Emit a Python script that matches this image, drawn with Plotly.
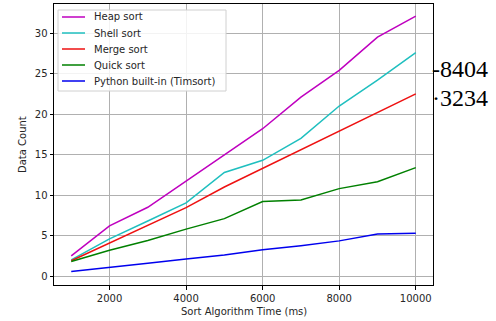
import plotly.graph_objects as go

sizes = [1000, 2000, 3000, 4000, 5000, 6000, 7000, 8000, 9000, 10000]
heap_sort = [2.5, 6.2, 8.5, 11.7, 14.9, 18.2, 22.1, 25.4, 29.5, 32.1]
shell_sort = [2.0, 4.6, 6.8, 9.05, 12.8, 14.3, 17.0, 21.0, 24.2, 27.6]
merge_sort = [1.9, 4.05, 6.2, 8.45, 11.0, 13.3, 15.6, 17.9, 20.3, 22.5]
quick_sort = [1.8, 3.2, 4.4, 5.8, 7.1, 9.2, 9.4, 10.8, 11.65, 13.4]
timsort = [0.58, 1.12, 1.6, 2.1, 2.6, 3.25, 3.75, 4.35, 5.2, 5.3]

series_names = ["Heap sort", "Shell sort", "Merge sort", "Quick sort", "Python built-in (Timsort)"]
series_values = [heap_sort, shell_sort, merge_sort, quick_sort, timsort]
series_colors = ["#bf00bf", "#1fbfbf", "#ee1111", "#008000", "#0000ee"]

x_ticks = [2000, 4000, 6000, 8000, 10000]
y_ticks = [0, 5, 10, 15, 20, 25, 30]
side_texts = ["-8404", "·3234"]

W, H = 496, 321
L, R, T, B = 54, 433, 4, 285  # plot area in pixels
pw, ph = R - L, B - T

def px(x):
    return (x - L) / pw

def py(y):
    return (B - y) / ph

TXT = "#262626"
FONT = "DejaVu Sans"

fig = go.Figure()
for name, vals, color in zip(series_names, series_values, series_colors):
    fig.add_trace(go.Scatter(x=sizes, y=vals, mode="lines", name=name,
                             line=dict(color=color, width=1.5), showlegend=False))

axis_common = dict(showline=True, linecolor="black", linewidth=1, mirror=True,
                   showgrid=True, gridcolor="#b0b0b0", gridwidth=1,
                   ticks="outside", ticklen=3.5, tickcolor="black", automargin=False,
                   zeroline=False, tickfont=dict(family=FONT, size=10, color=TXT))

fig.update_xaxes(range=[550, 10450], tickvals=x_ticks, ticktext=[str(v) for v in x_ticks],
                 **axis_common)
fig.update_yaxes(range=[-1.1, 33.6], tickvals=y_ticks, ticktext=[str(v) for v in y_ticks],
                 **axis_common)

# axis titles
fig.add_annotation(xref="paper", yref="paper", x=0.5, y=py(311), xanchor="center", yanchor="middle",
                   text="Sort Algorithm Time (ms)", showarrow=False,
                   font=dict(family=FONT, size=10, color=TXT))
fig.add_annotation(xref="paper", yref="paper", x=px(22.5), y=0.5, xanchor="center", yanchor="middle",
                   text="Data Count", showarrow=False, textangle=-90,
                   font=dict(family=FONT, size=10, color=TXT))

# legend (drawn manually to match matplotlib spacing)
fig.add_shape(type="rect", xref="paper", yref="paper",
              x0=px(58), x1=px(226), y0=py(91), y1=py(10),
              line=dict(color="#d0d0d0", width=1), fillcolor="rgba(255,255,255,0.85)", layer="above")
for i, (name, color) in enumerate(zip(series_names, series_colors)):
    yy = 17 + 16 * i
    fig.add_shape(type="line", xref="paper", yref="paper",
                  x0=px(62), x1=px(85), y0=py(yy), y1=py(yy),
                  line=dict(color=color, width=1.5), layer="above")
    fig.add_annotation(xref="paper", yref="paper", x=px(92), y=py(yy), xanchor="left", yanchor="middle",
                       text=name, showarrow=False, font=dict(family=FONT, size=10, color=TXT))

# stray side labels
fig.add_annotation(xref="paper", yref="paper", x=px(433), y=py(69), xanchor="left", yanchor="middle",
                   text=side_texts[0], showarrow=False, borderpad=0, xshift=-2,
                   font=dict(family="Liberation Serif", size=24, color="black"))
fig.add_annotation(xref="paper", yref="paper", x=px(433), y=py(98.5), xanchor="left", yanchor="middle",
                   text=side_texts[1], showarrow=False, borderpad=0, xshift=-2,
                   font=dict(family="Liberation Serif", size=24, color="black"))

fig.update_layout(
    width=W, height=H,
    margin=dict(l=L, r=W - R, t=T, b=H - B, autoexpand=False),
    plot_bgcolor="white", paper_bgcolor="white",
    showlegend=False,
)

fig.write_html("out.html", config={"displayModeBar": False, "staticPlot": True},
               post_script="document.body.style.margin='0';document.body.style.overflow='hidden';")
